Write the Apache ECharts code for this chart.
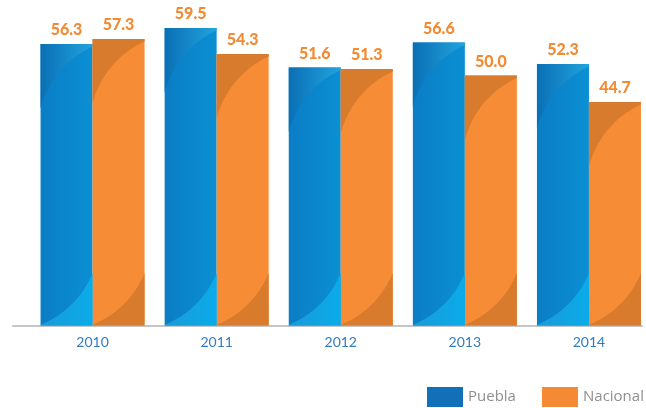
<!DOCTYPE html>
<html>
<head>
<meta charset="utf-8">
<script src="https://cdn.jsdelivr.net/npm/echarts@6/dist/echarts.min.js"></script>
<style>html,body{margin:0;padding:0;background:#fff}#c{width:646px;height:408px}</style>
</head>
<body>
<div id="c"></div>
<script>
const years = ['2010', '2011', '2012', '2013', '2014'];
const puebla = [56.3, 59.5, 51.6, 56.6, 52.3];
const nacional = [57.3, 54.3, 51.3, 50.0, 44.7];
const yTicks = [0, 60];

const BAR_W = 52;

function arcPts(cx, cy, R, a0, a1, n) {
  const pts = [];
  for (let i = 0; i <= n; i++) {
    const a = a0 + (a1 - a0) * i / n;
    pts.push([cx + R * Math.cos(a), cy + R * Math.sin(a)]);
  }
  return pts;
}

function shade(side, tlColor, brColor) {
  return function (params, api) {
    const cat = api.value(0), v = api.value(1);
    const p = api.coord([cat, v]);
    const b = api.coord([cat, 0]);
    const w = BAR_W;
    const L = side < 0 ? p[0] - w : p[0];
    const T = p[1], B = b[1];
    const R = 94;
    const cx = L + 91, cy = T + 88;
    const aS = Math.atan2(-Math.sqrt(R * R - (L + w - cx) ** 2), L + w - cx);
    const aE = Math.atan2(-Math.sqrt(R * R - (L - cx) ** 2), L - cx);
    const tl = [[L, T], [L + w, T]].concat(arcPts(cx, cy, R, aS, aE, 24));
    const cx2 = L + w - 91 + 4, cy2 = B - 88;
    const bS = Math.atan2(Math.sqrt(R * R - (L - cx2) ** 2), L - cx2);
    const bE = Math.atan2(Math.sqrt(R * R - (L + w - cx2) ** 2), L + w - cx2);
    const br = [[L + w, B], [L, B]].concat(arcPts(cx2, cy2, R, bS, bE, 24));
    return {
      type: 'group',
      children: [
        { type: 'polygon', shape: { points: tl }, style: { fill: tlColor } },
        { type: 'polygon', shape: { points: br }, style: { fill: brColor } }
      ]
    };
  };
}

const blueBody = new echarts.graphic.LinearGradient(0, 0, 1, 0, [
  { offset: 0, color: '#0a7dc5' }, { offset: 1, color: '#0b8fd3' }
]);
const blueTL = new echarts.graphic.LinearGradient(0, 0, 1, 0, [
  { offset: 0, color: '#0a6fb5' }, { offset: 1, color: '#22a4de' }
]);
const blueBR = new echarts.graphic.LinearGradient(0, 0, 1, 0, [
  { offset: 0, color: '#1a9ad8' }, { offset: 1, color: '#0aabea' }
]);
const orangeBody = '#f68c35';
const orangeTL = '#d97b2c';
const orangeBR = '#d97b2c';

const labelStyle = {
  show: true, position: 'top', distance: 6,
  color: '#f28b33', fontFamily: 'Lato', fontWeight: 900, fontSize: 16,
  formatter: p => Number(p.value).toFixed(1)
};

const legendText = { color: '#8f8f8f', fontSize: 15, fontFamily: 'Open Sans' };

const chart = echarts.init(document.getElementById('c'));
chart.setOption({
  animation: false,
  grid: [
    { left: 30.5, right: -5, top: 25.5, bottom: 82.5, outerBoundsMode: 'none' },
    { left: 13, right: 4, top: 25.5, bottom: 82, outerBoundsMode: 'none' }
  ],
  legend: [
    {
      left: 427, top: 387, itemWidth: 36, itemHeight: 20, icon: 'rect', padding: 0,
      textStyle: legendText,
      data: [{ name: 'Puebla', itemStyle: { color: '#1170b7' } }]
    },
    {
      left: 542, top: 387, itemWidth: 36, itemHeight: 20, icon: 'rect', padding: 0,
      textStyle: legendText,
      data: [{ name: 'Nacional', itemStyle: { color: '#f58a34' } }]
    }
  ],
  xAxis: [
    {
      type: 'category', data: years, gridIndex: 0,
      axisLine: { show: false }, axisTick: { show: false },
      axisLabel: { color: '#2f7dc0', fontSize: 14, fontFamily: 'Lato', margin: 10 }
    },
    {
      type: 'value', gridIndex: 1, min: 0, max: 1,
      axisLine: { show: true, lineStyle: { color: '#c6c6c6', width: 2 } },
      axisTick: { show: false }, axisLabel: { show: false }, splitLine: { show: false }
    }
  ],
  yAxis: [
    { type: 'value', gridIndex: 0, min: yTicks[0], max: yTicks[1], show: false },
    { type: 'value', gridIndex: 1, min: 0, max: 1, show: false }
  ],
  series: [
    {
      name: 'Puebla', type: 'bar', data: puebla, barWidth: BAR_W, barGap: '0%',
      itemStyle: { color: blueBody }, label: labelStyle
    },
    {
      name: 'Nacional', type: 'bar', data: nacional, barWidth: BAR_W, barGap: '0%',
      itemStyle: { color: orangeBody }, label: labelStyle
    },
    {
      type: 'custom', z: 3, silent: true,
      renderItem: shade(-1, blueTL, blueBR),
      data: puebla.map((v, i) => [i, v]),
      encode: { x: 0, y: 1 }
    },
    {
      type: 'custom', z: 3, silent: true,
      renderItem: shade(1, orangeTL, orangeBR),
      data: nacional.map((v, i) => [i, v]),
      encode: { x: 0, y: 1 }
    }
  ]
});
</script>
</body>
</html>
